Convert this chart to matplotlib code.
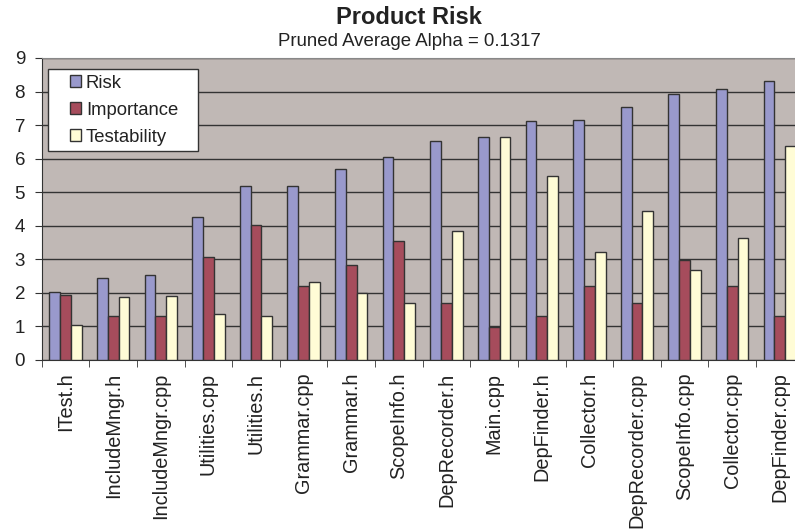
import numpy as np
import matplotlib
matplotlib.use("Agg")
import matplotlib.pyplot as plt
from matplotlib.container import BarContainer
from matplotlib.legend_handler import HandlerPatch, update_from_first_child
from matplotlib.patches import Rectangle

# -------------------------------------------------
# Data
# -------------------------------------------------

files = [
    "ITest.h", "IncludeMngr.h", "IncludeMngr.cpp", "Utilities.cpp",
    "Utilities.h", "Grammar.cpp", "Grammar.h", "ScopeInfo.h",
    "DepRecorder.h", "Main.cpp", "DepFinder.h", "Collector.h",
    "DepRecorder.cpp", "ScopeInfo.cpp", "Collector.cpp", "DepFinder.cpp",
]

risk = [2.04, 2.44, 2.52, 4.25, 5.18, 5.20, 5.69, 6.04,
        6.52, 6.65, 7.13, 7.15, 7.54, 7.94, 8.09, 8.30]

importance = [1.93, 1.30, 1.30, 3.07, 4.01, 2.22, 2.82, 3.55,
              1.69, 0.99, 1.30, 2.21, 1.70, 2.98, 2.21, 1.30]

testability = [1.05, 1.87, 1.92, 1.38, 1.30, 2.33, 2.00, 1.69,
               3.83, 6.66, 5.47, 3.22, 4.43, 2.67, 3.64, 6.37]

# -------------------------------------------------
# Figure
# -------------------------------------------------

plt.rcParams["font.family"] = ["Liberation Sans", "DejaVu Sans"]

W, H = 795, 531
fig = plt.figure(figsize=(W / 100, H / 100), dpi=100)

left, right, top, bottom = 41.7, 803.7, 58, 360
ax = fig.add_axes([left / W, 1 - bottom / H,
                   (right - left) / W, (bottom - top) / H])

ax.set_facecolor("#C0B8B5")

x = np.arange(len(files))
width = 0.227

series = [
    (risk, "#9999CC", "Risk"),
    (importance, "#A64C5C", "Importance"),
    (testability, "#FFFCD6", "Testability"),
]

for i, (vals, color, label) in enumerate(series):
    ax.bar(
        x + (i - 1) * width,
        vals,
        width=width,
        color=color,
        edgecolor="#333333",
        linewidth=1.0,
        label=label,
        zorder=3
    )

ax.set_xlim(-0.5, len(files) - 0.5)
ax.set_ylim(0, 9)
ax.set_yticks(range(10))
ax.yaxis.grid(True, color="#333333", linewidth=1.0, zorder=0)

ax.set_xticks(x)
ax.set_xticklabels(files, rotation=90, fontsize=14.3, color="#222222")
ax.set_xticks(np.arange(len(files) + 1) - 0.5, minor=True)
ax.tick_params(axis="x", which="major", length=0, pad=9)
ax.tick_params(axis="x", which="minor", length=5, color="#333333")
ax.tick_params(axis="y", labelsize=13.5, length=5, color="#333333",
               labelcolor="#222222", pad=7)

for side in ["top", "right"]:
    ax.spines[side].set_color("#888888")
ax.spines["left"].set_color("#333333")
ax.spines["bottom"].set_color("#333333")


# -------------------------------------------------
# Legend (square swatch pushed to the right of its slot)
# -------------------------------------------------

def square_patch(legend, orig_handle, xdescent, ydescent,
                 width, height, fontsize):
    return Rectangle((-xdescent + width - height, -ydescent), height, height)


lx = (48 - left) / (right - left)
lw = 150 / (right - left)
ly = 1 - (69 - top) / (bottom - top)

leg = ax.legend(
    loc="upper left",
    bbox_to_anchor=(lx, 0.3, lw, ly - 0.3),
    mode="expand",
    handler_map={BarContainer: HandlerPatch(
        patch_func=square_patch, update_func=update_from_first_child)},
    fontsize=13.3,
    frameon=True,
    fancybox=False,
    edgecolor="#333333",
    handlelength=1.5,
    handleheight=0.6,
    handletextpad=0.25,
    labelspacing=0.55,
    borderpad=0.3,
    borderaxespad=0.0
)
leg.get_frame().set_linewidth(1.0)
leg.get_frame().set_facecolor("white")
leg.get_frame().set_alpha(1.0)
for t in leg.get_texts():
    t.set_color("#222222")

fig.text(409 / W, 1 - 17 / H, "Product Risk", ha="center", va="center",
         fontsize=17, fontweight="bold", color="#222222")
fig.text(409 / W, 1 - 42 / H, "Pruned Average Alpha = 0.1317", ha="center",
         va="center", fontsize=13.4, color="#222222")

fig.savefig("out.png", dpi=100)
